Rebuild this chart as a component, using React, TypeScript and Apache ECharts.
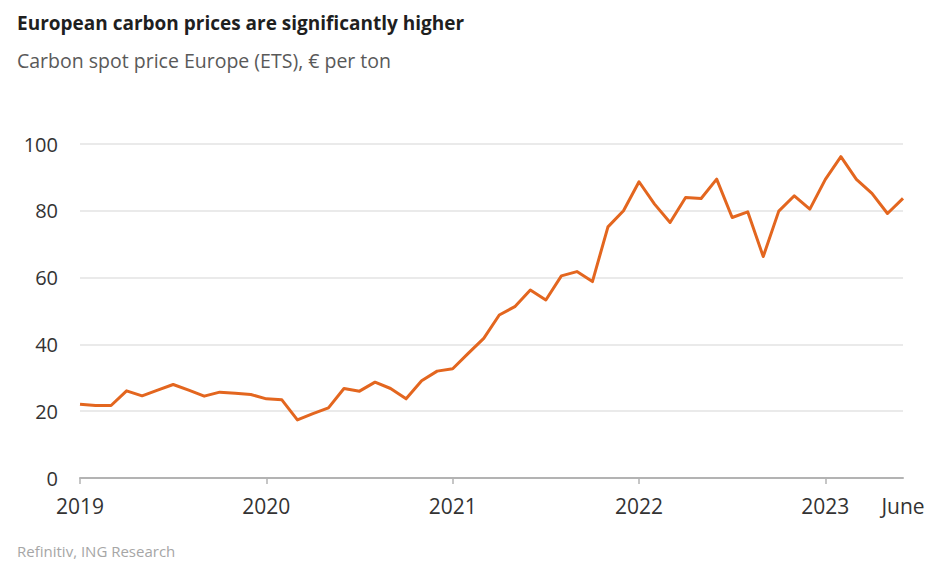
import React, { useEffect, useRef } from "react";
import * as echarts from "echarts";

const months: string[] = [];
for (let y = 2019; y <= 2023; y++) {
  for (let m = 1; m <= 12; m++) {
    if (y === 2023 && m > 6) break;
    months.push(`${y}-${String(m).padStart(2, "0")}`);
  }
}

const prices2019 = [22.1, 21.7, 21.7, 26.1, 24.6, 26.3, 28, 26.3, 24.5, 25.7, 25.4, 25];
const prices2020 = [23.7, 23.4, 17.4, 19.3, 21, 26.8, 26, 28.7, 26.8, 23.7, 29.1, 32];
const prices2021 = [32.7, 37.3, 41.8, 48.8, 51.3, 56.3, 53.3, 60.5, 61.8, 58.8, 75.2, 80];
const prices2022 = [88.7, 82, 76.5, 84, 83.7, 89.5, 78, 79.7, 66.3, 79.9, 84.5, 80.5];
const prices2023 = [89.4, 96.2, 89.4, 85.2, 79.2, 83.7];
const prices = [...prices2019, ...prices2020, ...prices2021, ...prices2022, ...prices2023];

const yTicks = { min: 0, max: 100, interval: 20 };
const lastLabel = "June";

const title = "European carbon prices are significantly higher";
const subtitle = "Carbon spot price Europe (ETS), € per ton";
const source = "Refinitiv, ING Research";

const FONT = "'Open Sans', 'Noto Sans', sans-serif";

export default function App() {
  const ref = useRef<HTMLDivElement>(null);
  useEffect(() => {
    if (!ref.current) return;
    const chart = echarts.init(ref.current, undefined, { renderer: "svg" });
    const last = months.length - 1;
    chart.setOption({
      animation: false,
      backgroundColor: "#ffffff",
      title: [
        {
          text: title,
          left: 17,
          top: 13,
          padding: 0,
          textStyle: { fontFamily: FONT, fontSize: 19, fontWeight: "bold", color: "#1f1f1f" },
        },
        {
          text: subtitle,
          left: 17,
          top: 50,
          padding: 0,
          textStyle: { fontFamily: FONT, fontSize: 19.5, fontWeight: "normal", color: "#595959" },
        },
        {
          text: source,
          left: 17,
          top: 543,
          padding: 0,
          textStyle: { fontFamily: FONT, fontSize: 15, fontWeight: "normal", color: "#a6a6a6" },
        },
      ],
      grid: { left: 80, right: 34, top: 144, bottom: 100, containLabel: false },
      xAxis: {
        type: "category",
        data: months,
        boundaryGap: false,
        axisLine: { show: true, lineStyle: { color: "#b3b3b3", width: 2 } },
        axisTick: {
          show: true,
          length: 6,
          lineStyle: { color: "#b3b3b3", width: 1.5 },
          interval: (i: number) => i % 12 === 0,
        },
        axisLabel: {
          interval: (i: number) => i % 12 === 0 || i === last,
          margin: 17,
          fontFamily: FONT,
          fontSize: 21,
          color: "#333333",
          formatter: (v: string, i: number) => (i === last ? lastLabel : v.slice(0, 4)),
        },
        splitLine: { show: false },
      },
      yAxis: {
        type: "value",
        min: yTicks.min,
        max: yTicks.max,
        interval: yTicks.interval,
        axisLine: { show: false },
        axisTick: { show: false },
        axisLabel: {
          margin: 22,
          fontFamily: FONT,
          fontSize: 20,
          color: "#333333",
        },
        splitLine: { show: true, lineStyle: { color: "#e3e3e3", width: 1.5 } },
      },
      series: [
        {
          type: "line",
          data: prices,
          showSymbol: false,
          symbol: "none",
          lineStyle: { color: "#e3661f", width: 3, join: "round" },
          z: 3,
        },
      ],
    });
    return () => chart.dispose();
  }, []);
  return (
    <div
      ref={ref}
      style={{ position: "fixed", left: 0, top: 0, width: 937, height: 578 }}
    />
  );
}
